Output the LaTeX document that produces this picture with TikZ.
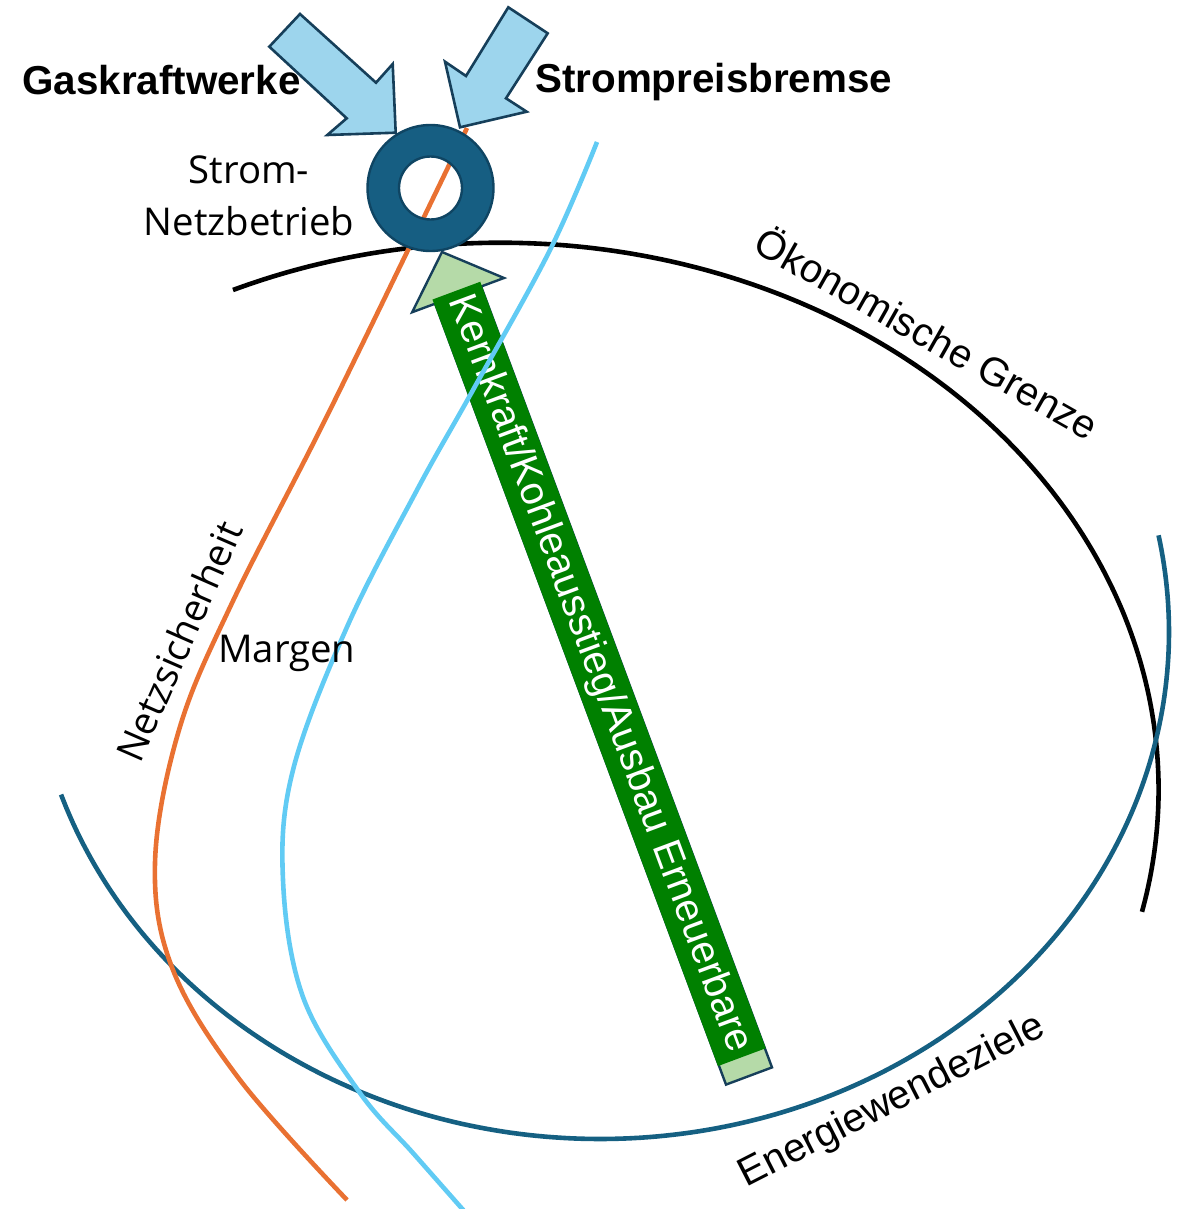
\documentclass[tikz,border=0pt]{standalone}
\usepackage{fontspec}
\setmainfont{Liberation Sans}
\newfontfamily\aptfont{Open Sans}
\definecolor{ewblue}{HTML}{156082}
\definecolor{netzorange}{HTML}{E97132}
\definecolor{margenblue}{HTML}{61CBF4}
\definecolor{ringblue}{HTML}{165E82}
\definecolor{ringline}{HTML}{0F4563}
\definecolor{inarrow}{HTML}{9DD5ED}
\definecolor{arrowline}{HTML}{163F5A}
\definecolor{kgreen}{HTML}{008000}
\definecolor{headgreen}{HTML}{B5DAA8}
\begin{document}
\begin{tikzpicture}[x=1pt,y=-1pt,
  curveline/.style={line width=4.6pt},
  blockarrow/.style={draw=arrowline, line width=2.6pt, line join=miter, fill=inarrow},
  headarrow/.style={draw=arrowline, line width=2.4pt, line join=miter, fill=headgreen},
  titlelbl/.style={inner sep=0pt, font=\bfseries\fontsize{40.4pt}{48pt}\selectfont},
  aptlbl/.style={inner sep=0pt, font=\aptfont\fontsize{38.3pt}{46pt}\selectfont},
  arlbl/.style={inner sep=0pt, font=\fontsize{40pt}{48pt}\selectfont},
  greenbox/.style={fill=kgreen, text=white, inner sep=0pt, minimum width=818pt,
    minimum height=51pt, font=\fontsize{40pt}{48pt}\selectfont}
]
\useasboundingbox (0,0) rectangle (1180,1209);

% Oekonomische Grenze (black ellipse arc)
\draw[curveline, black] plot[domain=246:372.9, samples=200]
  ({500.6+658*cos(\x)}, {789.7+547*sin(\x)});
% Energiewendeziele (dark blue ellipse arc)
\draw[curveline, ewblue] plot[domain=161.3:-11, samples=200]
  ({600+569*cos(\x)}, {632+507*sin(\x)});

% green block arrow
\draw[headarrow] (726.0,1084.6) -- (435.1,303.7) -- (412.2,312.2) -- (442,252)
  -- (504.0,278.0) -- (481.1,286.5) -- (772.0,1067.4) -- cycle;
\node[greenbox, rotate=-69.57] (kern) at (599.1,673.9)
  {Kernkraft/Kohleausstieg/Ausbau Erneuerbare};

% Netzsicherheit (orange) and Margen (light blue) curves
\draw[curveline, netzorange] plot[smooth, tension=0.6] coordinates {
  (347,1200) (240,1080) (173,970) (155,863) (179,730) (232,603) (330,410) (467,128)};
\draw[curveline, margenblue] plot[smooth, tension=0.6] coordinates {
  (465,1212) (413,1153) (360,1093) (303,997) (283,880) (293,770) (347,627) (417,490) (473,390) (550,250) (597,142)};

% ring
\fill[ringblue, even odd rule] (430.5,188) circle (63pt) (430.5,188) circle (31.5pt);
\draw[ringline, line width=2.4pt] (430.5,188) circle (63pt);
\draw[ringline, line width=2.4pt] (430.5,188) circle (31.5pt);

% top block arrows
\draw[blockarrow] (300,14) -- (269.3,46.7) -- (346.7,118.3) -- (327.3,135)
  -- (395.7,132.7) -- (392.7,64) -- (376,82.7) -- cycle;
\draw[blockarrow] (508.3,7.3) -- (547.7,33.3) -- (506,98.3) -- (526.7,111.7)
  -- (460,127.3) -- (445,61.7) -- (466,76) -- cycle;

% labels
\node[titlelbl, anchor=base west] (gas) at (22,95) {Gaskraftwerke};
\node[titlelbl, anchor=base west] (spb) at (535,92.7) {Strompreisbremse};
\node[aptlbl, anchor=base] (strom1) at (249,184) {Strom-};
\node[aptlbl, anchor=base] (strom2) at (249,235) {Netzbetrieb};
\node[aptlbl, anchor=base west] (margen) at (218,662) {Margen};
\node[aptlbl, anchor=base, rotate=66.3] (netz) at (192,647) {Netzsicherheit};
\node[arlbl, anchor=base, rotate=-29.5] (oeko) at (920,346) {Ökonomische Grenze};
\node[arlbl, anchor=base, rotate=27.1] (ewz) at (897,1111) {Energiewendeziele};
\end{tikzpicture}
\end{document}
